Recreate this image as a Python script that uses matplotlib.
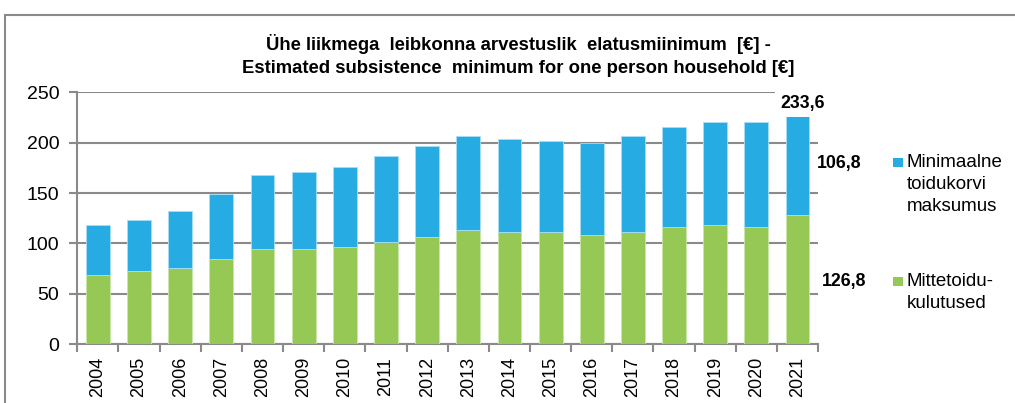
import numpy as np
import matplotlib
matplotlib.use("Agg")
import matplotlib.pyplot as plt
from matplotlib.patches import Rectangle

plt.rcParams['font.family'] = ['Liberation Sans', 'DejaVu Sans']

# --- data ---
years = [str(y) for y in range(2004, 2022)]
nonfood = [68.5, 72.8, 75.4, 85.0, 94.6, 94.6, 96.9, 101.5, 106.5, 113.4,
           111.1, 111.1, 108.8, 111.1, 116.4, 118.4, 116.4, 128.0]
total = [118.1, 123.0, 132.6, 149.5, 168.3, 170.6, 175.6, 187.2, 196.8, 206.3,
         204.0, 201.7, 199.4, 206.3, 215.9, 220.6, 220.6, 226.5]
food = [t - n for t, n in zip(total, nonfood)]

last_food = 106.8
last_nonfood = 126.8
last_total = 233.6

series_labels = ["Minimaalne\ntoidukorvi\nmaksumus", "Mittetoidu-\nkulutused"]
title = ("Ühe liikmega  leibkonna arvestuslik  elatusmiinimum  [€] -\n"
         "Estimated subsistence  minimum for one person household [€]")

blue = "#26ace2"
green = "#96c855"
grey = "#8a8a8a"


def fmt(v):
    return f"{v:.1f}".replace(".", ",")


fig = plt.figure(figsize=(10.15, 4.03), dpi=100)
ax = fig.add_axes([0.0762, 0.1457, 0.7298, 0.6253])

x = np.arange(len(years))
ax.bar(x, nonfood, width=0.58, color=green, edgecolor="#c9e6a8", linewidth=0.6, zorder=3)
ax.bar(x, food, width=0.58, bottom=nonfood, color=blue, edgecolor="#a9def5",
       linewidth=0.6, zorder=3)

ax.set_xlim(-0.5, len(years) - 0.5)
ax.set_ylim(0, 250)
ax.set_yticks(np.arange(0, 251, 50))
ax.set_xticks(x)
ax.set_xticklabels(years, rotation=90, fontsize=13)
ax.set_xticks(np.arange(-0.5, len(years)), minor=True)
ax.tick_params(axis="x", which="major", length=0, pad=9)
ax.tick_params(axis="x", which="minor", length=6, width=1.5, color=grey, direction="out")
ax.tick_params(axis="y", length=6, width=1.5, color=grey, labelsize=14, pad=7)

ax.grid(axis="y", color=grey, linewidth=1.5, zorder=0)
ax.set_axisbelow(True)
for s in ["top", "right"]:
    ax.spines[s].set_visible(False)
for s in ["left", "bottom"]:
    ax.spines[s].set_color(grey)
    ax.spines[s].set_linewidth(1.5)

# value labels on the last bar
i = len(years) - 1
ax.text(i + 0.12, total[i] + 4, fmt(last_total), ha="center", va="bottom",
        fontsize=12.8, fontweight="bold", zorder=5, clip_on=False,
        bbox=dict(facecolor="white", edgecolor="none", pad=4))
ax.text(i + 0.48, (total[i] + nonfood[i]) / 2 + 2.5, fmt(last_food), ha="left",
        va="center", fontsize=12.8, fontweight="bold", clip_on=False)
ax.text(i + 0.6, 62.1, fmt(last_nonfood), ha="left",
        va="center", fontsize=12.8, fontweight="bold", clip_on=False)

# legend drawn by hand
W, H = 1015.0, 403.0
for lab, col, ytop in [(series_labels[0], blue, 157.7), (series_labels[1], green, 276.7)]:
    fig.add_artist(Rectangle((893.3 / W, 1 - (ytop + 9.6) / H), 9.4 / W, 9.6 / H,
                             transform=fig.transFigure, facecolor=col, edgecolor="none"))
    fig.text(907.0 / W, 1 - (ytop - 4) / H, lab, ha="left", va="top",
             fontsize=13.5, linespacing=1.4)

fig.text(518 / W, 1 - 34 / H, title, ha="center", va="top", fontsize=13.3,
         fontweight="bold", linespacing=1.45)

# outer chart frame (runs off right and bottom)
fig.add_artist(Rectangle((5 / W, -0.2), 2.0, 1.2 - 15 / H, transform=fig.transFigure,
                         facecolor="none", edgecolor=grey, linewidth=1.5))

fig.savefig("out.png", dpi=100)
